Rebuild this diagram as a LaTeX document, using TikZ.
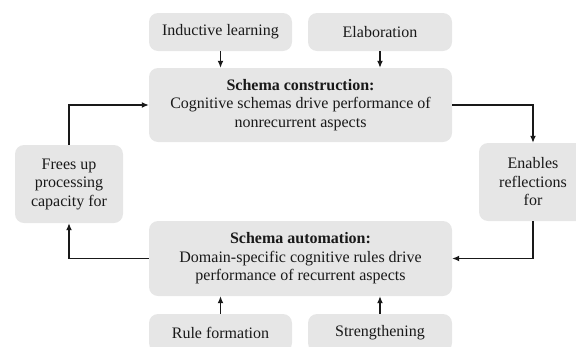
\documentclass[tikz,border=0pt]{standalone}
\usepackage{fontspec}
\setmainfont{Liberation Serif}
\usetikzlibrary{arrows.meta}
\definecolor{boxgray}{RGB}{230,230,230}
\definecolor{ink}{RGB}{25,25,25}
\begin{document}
\begin{tikzpicture}[x=1pt,y=-1pt,
  box/.style={fill=boxgray, rounded corners=9pt, inner sep=0pt, align=center,
    text=ink, font=\fontsize{16}{18.5}\selectfont},
  conn/.style={line width=1.3pt, draw=ink, -{Latex[length=7pt,width=6pt]}}]
\useasboundingbox (0,0) rectangle (576,346);
\clip (0,0) rectangle (576,346);
\node[box, minimum width=143pt, minimum height=38pt] (ind) at (220.5,32) {Inductive learning};
\node[box, minimum width=144pt, minimum height=38pt] (ela) at (380,32) {Elaboration};
\node[box, minimum width=303pt, minimum height=74pt] (con) at (300.5,105)
  {\textbf{Schema construction:}\\Cognitive schemas drive performance of\\nonrecurrent aspects};
\node[box, minimum width=108pt, minimum height=78pt] (free) at (69,184)
  {Frees up\\processing\\capacity for};
\node[box, minimum width=108pt, minimum height=78pt] (ena) at (533,182)
  {Enables\\reflections\\for};
\node[box, minimum width=303pt, minimum height=75pt] (aut) at (300.5,258.5)
  {\textbf{Schema automation:}\\Domain-specific cognitive rules drive\\performance of recurrent aspects};
\node[box, minimum width=143pt, minimum height=38pt] (rule) at (220.5,333) {Rule formation};
\node[box, minimum width=144pt, minimum height=38pt] (str) at (380,333) {Strengthening};
\draw[conn] (ind.south) -- (ind.south |- con.north);
\draw[conn] (ela.south) -- (ela.south |- con.north);
\draw[conn] (con.east) -| (ena.north);
\draw[conn] (ena.south) |- (aut.east);
\draw[conn] (aut.west) -| (free.south);
\draw[conn] (free.north) |- (con.west);
\draw[conn] (rule.north) -- (rule.north |- aut.south);
\draw[conn] (str.north) -- (str.north |- aut.south);
\end{tikzpicture}
\end{document}
